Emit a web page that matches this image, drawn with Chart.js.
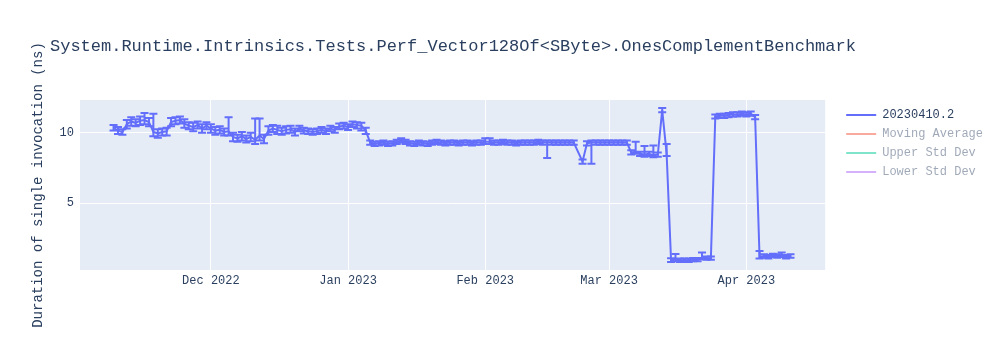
<!DOCTYPE html>
<html>
<head>
<meta charset="utf-8">
<script src="https://cdn.jsdelivr.net/npm/chart.js@4.4.0/dist/chart.umd.min.js"></script>
<style>
  body { margin: 0; background: #fff; }
</style>
</head>
<body>
<canvas id="myChart" width="1000" height="350"></canvas>
<script>
// Chart text
const chartTitle = 'System.Runtime.Intrinsics.Tests.Perf_Vector128Of<SByte>.OnesComplementBenchmark';
const yTitle = 'Duration of single invocation (ns)';
const seriesNames = ['20230410.2', 'Moving Average', 'Upper Std Dev', 'Lower Std Dev'];

// Run dates (one run per day)
const dates = [
  '2022-11-09','2022-11-10','2022-11-11','2022-11-12','2022-11-13','2022-11-14','2022-11-15','2022-11-16',
  '2022-11-17','2022-11-18','2022-11-19','2022-11-20','2022-11-21','2022-11-22','2022-11-23','2022-11-24',
  '2022-11-25','2022-11-26','2022-11-27','2022-11-28','2022-11-29','2022-11-30',
  '2022-12-01','2022-12-02','2022-12-03','2022-12-04','2022-12-05','2022-12-06','2022-12-07','2022-12-08',
  '2022-12-09','2022-12-10','2022-12-11','2022-12-12','2022-12-13','2022-12-14','2022-12-15','2022-12-16',
  '2022-12-17','2022-12-18','2022-12-19','2022-12-20','2022-12-21','2022-12-22','2022-12-23','2022-12-24',
  '2022-12-25','2022-12-26','2022-12-27','2022-12-28','2022-12-29','2022-12-30','2022-12-31',
  '2023-01-01','2023-01-02','2023-01-03','2023-01-04','2023-01-05','2023-01-06','2023-01-07','2023-01-08',
  '2023-01-09','2023-01-10','2023-01-11','2023-01-12','2023-01-13','2023-01-14','2023-01-15','2023-01-16',
  '2023-01-17','2023-01-18','2023-01-19','2023-01-20','2023-01-21','2023-01-22','2023-01-23','2023-01-24',
  '2023-01-25','2023-01-26','2023-01-27','2023-01-28','2023-01-29','2023-01-30','2023-01-31',
  '2023-02-01','2023-02-02','2023-02-03','2023-02-04','2023-02-05','2023-02-06','2023-02-07','2023-02-08',
  '2023-02-09','2023-02-10','2023-02-11','2023-02-12','2023-02-13','2023-02-14','2023-02-15','2023-02-16',
  '2023-02-17','2023-02-18','2023-02-19','2023-02-20','2023-02-21',
  '2023-02-23','2023-02-24','2023-02-25','2023-02-26','2023-02-27','2023-02-28',
  '2023-03-01','2023-03-02','2023-03-03','2023-03-04','2023-03-05','2023-03-06','2023-03-07','2023-03-08',
  '2023-03-09','2023-03-10','2023-03-11','2023-03-12','2023-03-13','2023-03-14','2023-03-15','2023-03-16',
  '2023-03-17','2023-03-18','2023-03-19','2023-03-20','2023-03-21','2023-03-22','2023-03-23','2023-03-24',
  '2023-03-25','2023-03-26','2023-03-27','2023-03-28','2023-03-29','2023-03-30','2023-03-31',
  '2023-04-01','2023-04-02','2023-04-03','2023-04-04','2023-04-05','2023-04-06','2023-04-07','2023-04-08',
  '2023-04-09','2023-04-10','2023-04-11'
];

// Duration (ns)
const values = [
  10.35,10.15,10.05,10.6,10.8,10.7,10.85,10.9,10.75,10.05,9.95,10.05,10.1,10.75,10.85,10.9,10.65,10.5,10.4,10.55,10.3,10.5,
  10.3,10.15,10.2,10.05,10.1, 9.7,9.6,9.75,9.55,9.7, 9.5,9.8,9.55,10.15,10.3, 10.2,10.1,10.2,10.25,10.05,
  10.3,10.15,10.1,10.05,10.1, 10.2,10.1,10.3,10.2,10.45, 10.5,
  10.4,10.6,10.55,10.5,10.15, 9.3,9.2,9.25,9.3,9.2, 9.25,9.35,9.45,9.35,9.25, 9.2,9.3,9.25,9.2,9.3,
  9.35,9.3,9.25,9.3,9.3, 9.25,9.3,9.3,9.25,9.3, 9.3,
  9.35,9.35,9.3,9.3,9.35, 9.3,9.3,9.25,9.3,9.3, 9.3,9.3,9.35,9.3,9.3, 9.3,9.3,9.3,9.3,9.3, 9.3,
  7.95,9.25,9.3,9.3,9.3,9.3,
  9.3,9.3,9.3,9.3,9.3, 8.6,8.65,8.5,8.45,8.5, 8.4,8.45,11.6,8.5,0.95, 1.0,0.95,0.95,0.95,1.0,
  1.0,1.15,1.1,1.1,11.15, 11.2,11.2,11.25,11.3,11.3, 11.35,
  11.3,11.35,11.1,1.2,1.25, 1.2,1.3,1.25,1.3,1.2, 1.25
];

// Error bar extents above / below each value
const errUp = [
  0.2,0.25,0.2,0.3,0.3,0.25,0.3,0.5,0.3,1.3,0.3,0.25,0.25,0.3,0.25,0.25,0.3,0.25,0.3,0.25,0.3,0.25,
  0.3,0.25,0.25,0.25,1.0, 0.3,0.25,0.3,0.25,0.3, 1.5,1.2,0.3,0.3,0.25, 0.3,0.25,0.25,0.25,0.25,
  0.2,0.2,0.2,0.2,0.2, 0.2,0.2,0.2,0.2,0.2, 0.2,
  0.2,0.2,0.2,0.2,0.2, 0.15,0.15,0.15,0.15,0.15, 0.15,0.15,0.15,0.15,0.15, 0.15,0.15,0.15,0.15,0.15,
  0.15,0.15,0.15,0.15,0.15, 0.15,0.15,0.15,0.15,0.15, 0.15,
  0.25,0.25,0.15,0.15,0.15, 0.15,0.15,0.15,0.15,0.15, 0.15,0.15,0.15,0.15,0.15, 0.15,0.15,0.15,0.15,0.15, 0.15,
  0.15,0.15,0.15,0.15,0.15,0.15,
  0.15,0.15,0.15,0.15,0.15, 0.15,0.7,0.15,0.6,0.15, 0.7,0.15,0.15,0.7,0.15, 0.4,0.12,0.12,0.12,0.12,
  0.12,0.35,0.12,0.12,0.15, 0.15,0.15,0.15,0.15,0.15, 0.15,
  0.15,0.15,0.15,0.4,0.12, 0.12,0.12,0.12,0.2,0.12, 0.12
];
const errDown = [
  0.2,0.25,0.2,0.3,0.3,0.25,0.3,0.3,0.3,0.3,0.3,0.25,0.3,0.3,0.25,0.25,0.3,0.25,0.3,0.25,0.3,0.25,
  0.3,0.3,0.25,0.25,0.3, 0.3,0.25,0.3,0.25,0.3, 0.3,0.35,0.3,0.3,0.25, 0.3,0.25,0.25,0.25,0.25,
  0.2,0.2,0.2,0.2,0.2, 0.2,0.2,0.2,0.2,0.2, 0.2,
  0.2,0.2,0.25,0.35,0.25, 0.15,0.15,0.15,0.15,0.15, 0.15,0.15,0.15,0.15,0.15, 0.15,0.15,0.15,0.15,0.15,
  0.15,0.15,0.15,0.15,0.15, 0.15,0.15,0.15,0.15,0.15, 0.15,
  0.15,0.15,0.15,0.15,0.15, 0.15,0.15,0.15,0.15,0.15, 0.15,0.15,0.15,0.15,1.1, 0.15,0.15,0.15,0.15,0.15, 0.15,
  0.15,0.15,1.5,0.15,0.15,0.15,
  0.15,0.15,0.15,0.15,0.15, 0.15,0.15,0.15,0.15,0.15, 0.15,0.15,0.15,0.15,0.12, 0.12,0.12,0.12,0.12,0.12,
  0.12,0.12,0.12,0.12,0.15, 0.15,0.15,0.15,0.15,0.15, 0.15,
  0.15,0.15,0.15,0.12,0.12, 0.12,0.12,0.12,0.12,0.12, 0.12
];

// Axes
const xTickDates = ['2022-12-01', '2023-01-01', '2023-02-01', '2023-03-01', '2023-04-01'];
const xTickLabels = ['Dec 2022', 'Jan 2023', 'Feb 2023', 'Mar 2023', 'Apr 2023'];
const xRange = ['2022-11-01T10:00:00Z', '2023-04-18T20:00:00Z'];
const yTicks = [5, 10];
const yRange = [0.26, 12.32];

const FONT = "'Courier New', 'Liberation Mono', 'DejaVu Sans Mono', monospace";
const TEXT = '#2a3f5f';
const lineColor = '#636efa';
const legendColors = ['#636efa', 'rgba(239,85,59,0.5)', 'rgba(0,204,150,0.5)', 'rgba(171,99,250,0.5)'];

// grey plot area like plotly
const plotBg = {
  id: 'plotBg',
  beforeDraw(chart) {
    const {ctx, chartArea: a} = chart;
    ctx.save();
    ctx.fillStyle = '#e5ecf6';
    ctx.fillRect(a.left, a.top, a.width, a.height);
    ctx.restore();
  }
};

const titleText = {
  id: 'titleText',
  afterDraw(chart) {
    const ctx = chart.ctx;
    ctx.save();
    ctx.font = '17px ' + FONT;
    ctx.fillStyle = TEXT;
    ctx.textBaseline = 'middle';
    ctx.fillText(chartTitle, 50, 46);
    ctx.restore();
  }
};

const errorBars = {
  id: 'errorBars',
  afterDatasetsDraw(chart) {
    const {ctx, chartArea: a, scales: {x, y}} = chart;
    ctx.save();
    ctx.beginPath();
    ctx.rect(a.left, a.top, a.width, a.height);
    ctx.clip();
    ctx.strokeStyle = lineColor;
    ctx.lineWidth = 2;
    dates.forEach((d, i) => {
      const px = x.getPixelForValue(Date.parse(d));
      const top = y.getPixelForValue(values[i] + errUp[i]);
      const bot = y.getPixelForValue(values[i] - errDown[i]);
      ctx.beginPath();
      ctx.moveTo(px, top); ctx.lineTo(px, bot);
      ctx.moveTo(px - 4, top); ctx.lineTo(px + 4, top);
      ctx.moveTo(px - 4, bot); ctx.lineTo(px + 4, bot);
      ctx.stroke();
    });
    ctx.restore();
  }
};

// nudge legend away from plot area
const legendShift = {
  id: 'legendShift',
  afterLayout(chart) {
    const l = chart.legend;
    l.left += 14; l.right += 14;
    l.top += 2; l.bottom += 2;
  }
};

const points = dates.map((d, i) => ({x: Date.parse(d), y: values[i]}));

new Chart(document.getElementById('myChart'), {
  type: 'line',
  data: {
    datasets: [
      {label: seriesNames[0], data: points, borderColor: lineColor, borderWidth: 2, pointRadius: 0, tension: 0},
      {label: seriesNames[1], data: [], borderColor: legendColors[1]},
      {label: seriesNames[2], data: [], borderColor: legendColors[2]},
      {label: seriesNames[3], data: [], borderColor: legendColors[3]}
    ]
  },
  options: {
    responsive: false,
    animation: false,
    devicePixelRatio: 1,
    layout: {padding: {left: 26, right: 21, top: 100, bottom: 0}},
    plugins: {
      tooltip: {enabled: false},
      legend: {
        position: 'right',
        align: 'start',
        labels: {
          boxWidth: 30,
          boxHeight: 2,
          padding: 7,
          font: {family: FONT, size: 12},
          color: TEXT,
          generateLabels: () => seriesNames.map((name, i) => ({
            text: name,
            fillStyle: legendColors[i],
            strokeStyle: legendColors[i],
            lineWidth: 0,
            hidden: false,
            fontColor: i === 0 ? TEXT : 'rgba(42,63,95,0.45)',
            datasetIndex: i
          }))
        }
      }
    },
    scales: {
      x: {
        type: 'linear',
        min: Date.parse(xRange[0]),
        max: Date.parse(xRange[1]),
        afterBuildTicks: s => { s.ticks = xTickDates.map(d => ({value: Date.parse(d)})); },
        afterFit: s => { s.height = 80; },
        ticks: {
          callback: (v, i) => xTickLabels[i],
          color: TEXT,
          font: {family: FONT, size: 12},
          padding: 4,
          maxRotation: 0,
          autoSkip: false
        },
        grid: {color: '#ffffff', lineWidth: 1, drawTicks: false},
        border: {display: false}
      },
      y: {
        min: yRange[0],
        max: yRange[1],
        afterBuildTicks: s => { s.ticks = yTicks.map(v => ({value: v})); },
        afterFit: s => { s.width = 54; },
        ticks: {color: TEXT, font: {family: FONT, size: 12}, padding: 6},
        grid: {color: '#ffffff', lineWidth: 1, drawTicks: false},
        border: {display: false},
        title: {display: true, text: yTitle, color: TEXT, font: {family: FONT, size: 14}, padding: 4}
      }
    }
  },
  plugins: [plotBg, errorBars, titleText, legendShift]
});
</script>
</body>
</html>
